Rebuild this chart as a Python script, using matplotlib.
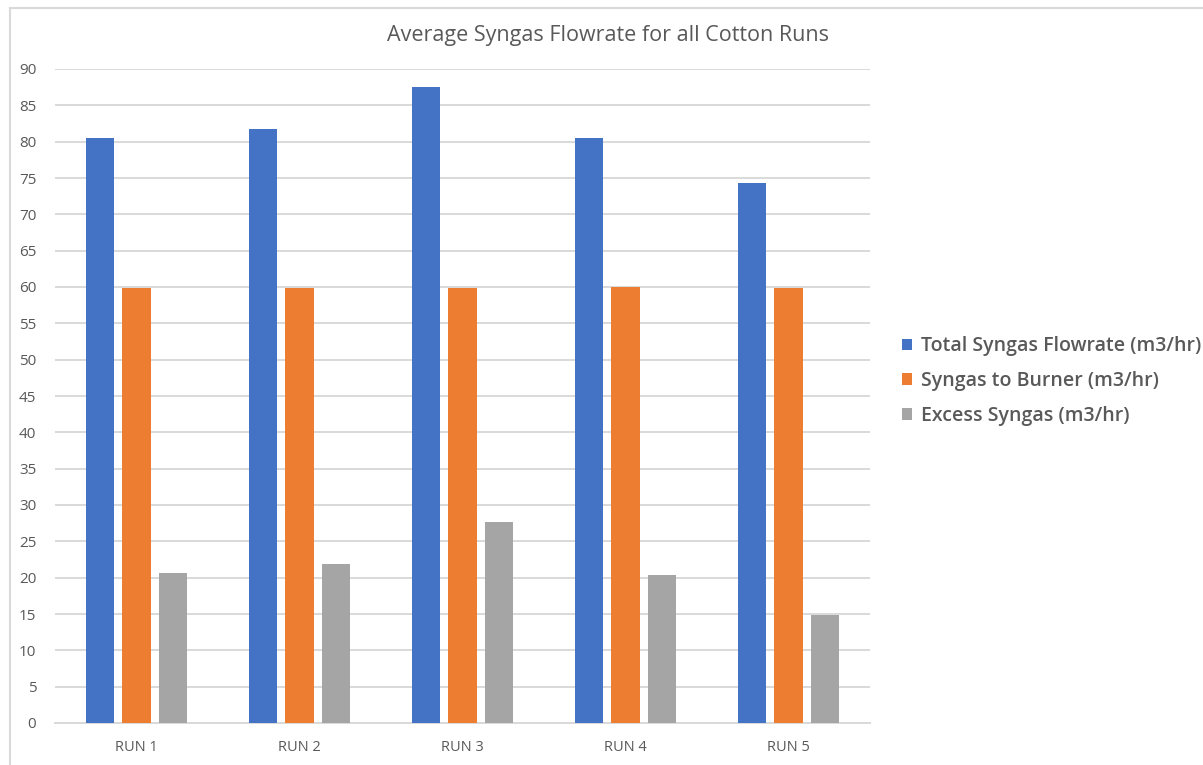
import numpy as np
import matplotlib.pyplot as plt
from matplotlib.lines import Line2D

# Average syngas flowrates per cotton run (m3/hr)
runs = ['RUN 1', 'RUN 2', 'RUN 3', 'RUN 4', 'RUN 5']
total_flow = [80.5, 81.7, 87.5, 80.5, 74.3]
to_burner = [59.8, 59.8, 59.8, 60.0, 59.8]
excess = [20.6, 21.9, 27.6, 20.3, 14.9]

series_names = ['Total Syngas Flowrate (m3/hr)',
                'Syngas to Burner (m3/hr)',
                'Excess Syngas (m3/hr)']
colors = ['#4472C4', '#ED7D31', '#A5A5A5']
yticks = list(range(0, 95, 5))

text_color = '#595959'
grid_color = '#D9D9D9'

fig = plt.figure(figsize=(12.03, 7.65), dpi=100)
ax = fig.add_axes([55 / 1203, 1 - 723 / 765, 815 / 1203, 654 / 765])

x = np.arange(len(runs))
width = 0.172
step = 0.221
for i, (vals, name, col) in enumerate(zip([total_flow, to_burner, excess], series_names, colors)):
    ax.bar(x + (i - 1) * step, vals, width, color=col, label=name, zorder=3)

ax.set_xlim(-0.5, len(runs) - 0.5)
ax.set_ylim(0, 90)
ax.set_yticks(yticks)
ax.set_xticks(x)
ax.set_xticklabels(runs, fontfamily='Open Sans', fontsize=10.5, color=text_color)
ax.set_yticklabels([str(t) for t in yticks], fontfamily='Open Sans', fontsize=11, color=text_color)
ax.tick_params(axis='both', length=0)
ax.tick_params(axis='y', pad=13.5)
ax.tick_params(axis='x', pad=12)
ax.grid(axis='y', color=grid_color, linewidth=1.4, zorder=0)
for side in ['top', 'right', 'left']:
    ax.spines[side].set_visible(False)
ax.spines['bottom'].set_color(grid_color)
ax.spines['bottom'].set_linewidth(1.4)

fig.text(608 / 1203, 1 - 36 / 765, 'Average Syngas Flowrate for all Cotton Runs',
         ha='center', va='center', fontfamily='Open Sans', fontsize=15.5, color=text_color)

leg = fig.legend(loc='center left', bbox_to_anchor=(884 / 1203, 1 - 381 / 765),
                 frameon=False, handlelength=0.55, handleheight=0.55, handletextpad=0.45,
                 labelspacing=0.75, prop={'family': 'Open Sans', 'size': 14, 'weight': 'semibold'})
for t in leg.get_texts():
    t.set_color(text_color)

# sheet border around the chart
bc = '#D9D9D9'
fig.add_artist(Line2D([10 / 1203, 10 / 1203], [0, 1 - 8 / 765], transform=fig.transFigure,
                      color=bc, linewidth=1.5))
fig.add_artist(Line2D([10 / 1203, 1], [1 - 8 / 765, 1 - 8 / 765], transform=fig.transFigure,
                      color=bc, linewidth=1.5))

fig.savefig('out.png', dpi=100, facecolor='white')
